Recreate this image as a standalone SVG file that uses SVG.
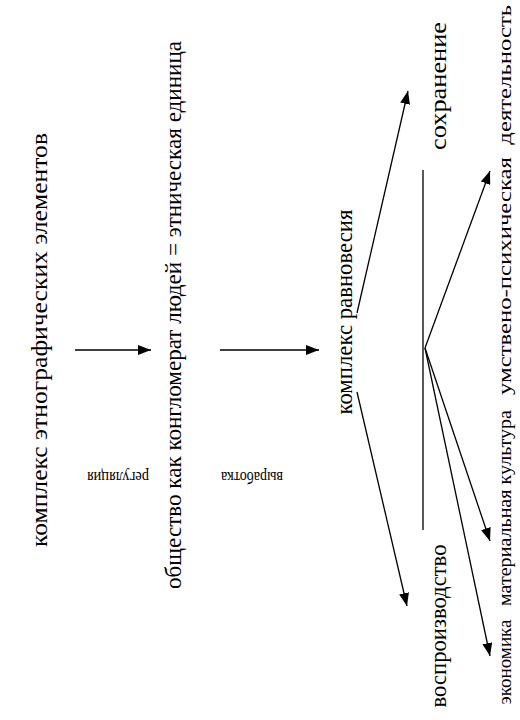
<svg xmlns="http://www.w3.org/2000/svg" width="520" height="720" viewBox="0 0 520 720">
<style>
text{font-family:"Liberation Serif","Times New Roman",serif;fill:#000;text-anchor:middle}
.t{font-size:23px}
.s{font-size:16px}
.l{font-size:18px}
.c{stroke:#000;stroke-width:1.3;fill:none}
</style>
<defs>
<marker id="ah" markerUnits="userSpaceOnUse" markerWidth="14" markerHeight="10" refX="13" refY="5" orient="auto"><path d="M0,0 L13,5 L0,10 Z" fill="#000"/></marker>
</defs>
<rect width="520" height="720" fill="#fff"/>
<g id="n1"><text class="t" transform="translate(47,340) rotate(-90)" textLength="414" lengthAdjust="spacingAndGlyphs">комплекс этнографических элементов</text></g>
<g id="n2"><text class="t" transform="translate(181,315) rotate(-90)" textLength="548" lengthAdjust="spacingAndGlyphs">общество как конгломерат людей = этническая единица</text></g>
<g id="n3"><text class="t" transform="translate(352,312) rotate(-90)" textLength="205" lengthAdjust="spacingAndGlyphs">комплекс равновесия</text></g>
<g id="n4"><text class="t" transform="translate(446,86) rotate(-90)" textLength="128" lengthAdjust="spacingAndGlyphs">сохранение</text></g>
<g id="n5"><text class="t" transform="translate(446,626) rotate(-90)" textLength="163" lengthAdjust="spacingAndGlyphs">воспроизводство</text></g>
<g id="n6"><text class="l" transform="translate(511,662) rotate(-90)" textLength="85" lengthAdjust="spacingAndGlyphs">экономика</text></g>
<g id="n7"><text class="l" transform="translate(511,508) rotate(-90)" textLength="196" lengthAdjust="spacingAndGlyphs">материальная культура</text></g>
<g id="n8"><text class="l" transform="translate(511,200) rotate(-90)" textLength="390" lengthAdjust="spacingAndGlyphs" xml:space="preserve">умствено-психическая  деятельность</text></g>
<g id="lab1"><text class="s" transform="translate(118,472) rotate(180)" textLength="62" lengthAdjust="spacingAndGlyphs">регуляция</text></g>
<g id="lab2"><text class="s" transform="translate(252,472) rotate(180)" textLength="62" lengthAdjust="spacingAndGlyphs">выработка</text></g>
<g id="connectors">
<line class="c" x1="75" y1="350" x2="151" y2="350" marker-end="url(#ah)"/>
<line class="c" x1="220" y1="350" x2="319" y2="350" marker-end="url(#ah)"/>
<line class="c" x1="357" y1="313" x2="408" y2="91" marker-end="url(#ah)"/>
<line class="c" x1="357" y1="392" x2="407" y2="606" marker-end="url(#ah)"/>
<line class="c" x1="423" y1="170" x2="423" y2="530"/>
<line class="c" x1="425" y1="348" x2="490" y2="171" marker-end="url(#ah)"/>
<line class="c" x1="425" y1="348" x2="490" y2="541" marker-end="url(#ah)"/>
<line class="c" x1="425" y1="348" x2="490" y2="656" marker-end="url(#ah)"/>
</g>
</svg>
